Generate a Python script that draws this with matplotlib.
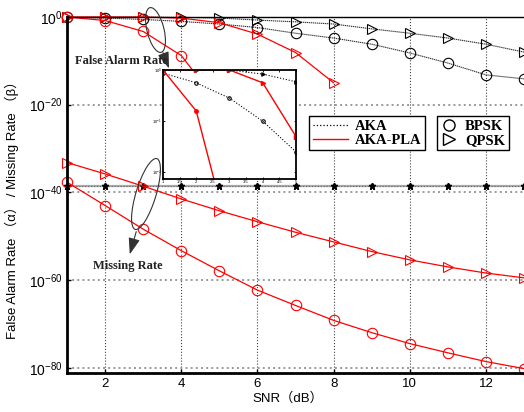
import numpy as np
import matplotlib
matplotlib.use("Agg")
import matplotlib.pyplot as plt
from matplotlib.patches import Ellipse
from matplotlib.lines import Line2D
from matplotlib.ticker import NullLocator

plt.rcParams['font.family'] = ['Liberation Sans', 'Noto Sans CJK SC', 'DejaVu Sans']

snr = [1, 2, 3, 4, 5, 6, 7, 8, 9, 10, 11, 12, 13]

# log10 of the rates
aka_bpsk_miss = [-0.06, -0.25, -0.55, -1.0, -1.6, -2.4, -3.7, -4.8, -6.2, -8.2, -10.5, -13.2, -14.1]
aka_qpsk_miss = [0.0, 0.0, 0.0, -0.08, -0.23, -0.7, -1.1, -1.6, -2.7, -3.7, -4.8, -6.2, -8.0]
pla_bpsk_miss = [0.0, -0.8, -3.3, -8.8, -20.0]
pla_qpsk_miss = [0.0, 0.0, 0.0, -0.25, -1.3, -3.9, -8.1, -15.0]
aka_bpsk_fa = [-38.5, -38.5, -38.5, -38.5, -38.5, -38.5, -38.5, -38.5, -38.5, -38.5, -38.5, -38.5, -38.5]
aka_qpsk_fa = [-38.5, -38.5, -38.5, -38.5, -38.5, -38.5, -38.5, -38.5, -38.5, -38.5, -38.5, -38.5, -38.5]
pla_bpsk_fa = [-37.7, -43.0, -48.4, -53.3, -57.9, -62.3, -65.8, -69.2, -72.0, -74.5, -76.6, -78.6, -80.2]
pla_qpsk_fa = [-33.2, -35.8, -38.6, -41.5, -44.2, -46.7, -49.1, -51.3, -53.5, -55.4, -57.0, -58.4, -59.5]

ytick_exp = [0, -20, -40, -60, -80]
xticks = [2, 4, 6, 8, 10, 12]
inset_xticks = [1, 1.5, 2, 2.5, 3, 3.5, 4, 4.5, 5]
inset_yexp = [0, -1, -2]

def p10(v):
    return 10.0 ** np.array(v)

fig = plt.figure(figsize=(5.24, 4.12), dpi=100, facecolor="white")
ax = fig.add_axes([0.128, 0.0947, 0.872, 0.864])
ax.set_yscale("log")
ax.set_xlim(1, 13)
ax.set_ylim(10 ** -81.2, 10 ** 0)

mk = dict(mfc="none", ms=7.5, mew=0.8, clip_on=False)
aka_ls = (0, (1.2, 0.6))
# AKA missing rates
ax.plot(snr, p10(aka_bpsk_miss), color="#333333", ls=aka_ls, lw=0.8, marker="o", mec="k", **mk)
ax.plot(snr, p10(aka_qpsk_miss), color="#333333", ls=aka_ls, lw=0.8, marker=">", mec="k", **mk)
# AKA false alarm
ax.plot(snr, p10(aka_bpsk_fa), color="#aaaaaa", ls="-", lw=1.6, marker="*", ms=5,
        mfc="k", mec="k", clip_on=False)
ax.plot(snr, p10(aka_qpsk_fa), color="#666666", ls=":", lw=0.8, marker="*", ms=5,
        mfc="k", mec="k", clip_on=False)
# AKA-PLA
ax.plot(snr[:len(pla_bpsk_miss)], p10(pla_bpsk_miss), color="red", lw=0.9, marker="o", mec="red", **mk)
ax.plot(snr[:len(pla_qpsk_miss)], p10(pla_qpsk_miss), color="red", lw=0.9, marker=">", mec="red", **mk)
ax.plot(snr, p10(pla_bpsk_fa), color="red", lw=0.9, marker="o", mec="red", **mk)
ax.plot(snr, p10(pla_qpsk_fa), color="red", lw=0.9, marker=">", mec="red", **mk)

ax.set_yticks([10.0 ** e for e in ytick_exp])
ax.set_yticklabels([r"$\mathregular{10^{%d}}$" % e for e in ytick_exp], fontsize=10)
ax.yaxis.set_minor_locator(NullLocator())
ax.set_xticks(xticks)
ax.set_xticklabels([str(x) for x in xticks], fontsize=9.5)
ax.tick_params(direction="in", length=3, width=1, colors="k")
ax.xaxis.grid(True, color="#444444", ls=":", lw=0.8)
ax.yaxis.grid(True, color="#999999", ls=":", lw=1.4)
ax.spines["left"].set_linewidth(2)
ax.spines["bottom"].set_linewidth(2)
ax.spines["top"].set_linewidth(1)
ax.spines["right"].set_visible(False)

ax.set_xlabel("SNR（dB）", fontsize=9.5)
ax.xaxis.set_label_coords(0.484, -0.055)
ax.set_ylabel("False Alarm Rate （α） / Missing Rate （β）", fontsize=9.5)
ax.yaxis.set_label_coords(-0.105, 0.466)

# legends
h1 = [Line2D([], [], color="k", ls=":", lw=0.9), Line2D([], [], color="red", lw=1)]
leg1 = ax.legend(h1, ["AKA", "AKA-PLA"], loc="upper left", bbox_to_anchor=(0.590, 0.7184),
                 bbox_transform=fig.transFigure, borderaxespad=0, fancybox=False,
                 edgecolor="k", framealpha=1, handlelength=2.4, handletextpad=0.5,
                 borderpad=0.25, labelspacing=0.05,
                 prop=dict(family="Liberation Serif", weight="bold", size=10.5))
leg1.get_frame().set_linewidth(1)
ax.add_artist(leg1)
h2 = [Line2D([], [], ls="none", marker="o", mfc="none", mec="k", ms=8),
      Line2D([], [], ls="none", marker=">", mfc="none", mec="k", ms=9)]
leg2 = ax.legend(h2, ["BPSK", "QPSK"], loc="upper left", bbox_to_anchor=(0.8334, 0.7184),
                 bbox_transform=fig.transFigure, borderaxespad=0, fancybox=False,
                 edgecolor="k", framealpha=1, handlelength=1.2, handletextpad=0.5,
                 borderpad=0.25, labelspacing=0.05,
                 prop=dict(family="Liberation Serif", weight="bold", size=10.5))
leg2.get_frame().set_linewidth(1)

# inset zoom on low SNR missing rates
axi = fig.add_axes([0.311, 0.5655, 0.2538, 0.2646])
axi.set_yscale("log")
axi.set_xlim(1, 5)
axi.set_ylim(10 ** -2.13, 10 ** 0)
n5 = 5
axi.plot(snr[:n5], p10(aka_bpsk_miss[:n5]), color="k", ls=":", lw=0.8, marker="o", ms=2.5,
         mfc="none", mec="k", mew=0.8)
axi.plot(snr[:n5], p10(aka_qpsk_miss[:n5]), color="k", ls=":", lw=0.8, marker=">", ms=2.5,
         mfc="k", mec="k", mew=0.8)
axi.plot(snr[:n5], p10(pla_bpsk_miss[:n5]), color="red", lw=1, marker="o", ms=2.5, mfc="red", mec="red")
axi.plot(snr[:n5], p10(pla_qpsk_miss[:n5]), color="red", lw=1, marker=">", ms=3, mfc="red", mec="red")
axi.set_xticks(inset_xticks)
axi.set_xticklabels([("%g" % v) for v in inset_xticks], fontsize=3)
axi.set_yticks([10.0 ** e for e in inset_yexp])
axi.set_yticklabels([r"$\mathregular{10^{%d}}$" % e for e in inset_yexp], fontsize=3)
axi.yaxis.set_minor_locator(NullLocator())
axi.tick_params(direction="in", length=1.5, width=0.6, pad=0.8, top=True, right=True)
for s in axi.spines.values():
    s.set_linewidth(1.3)

# annotations in pixel space
ov = fig.add_axes([0, 0, 1, 1], facecolor="none")
ov.set_xlim(0, 524)
ov.set_ylim(412, 0)
ov.axis("off")
ov.add_patch(Ellipse((155.5, 30), 17, 46, angle=-14, fill=False, ec="#333333", lw=0.8))
ov.annotate("", xy=(170, 71), xytext=(162, 50),
            arrowprops=dict(arrowstyle="-|>,head_length=1.0,head_width=0.35", color="#333333", lw=0.8))
ov.add_patch(Ellipse((146, 194), 20, 74, angle=17, fill=False, ec="#333333", lw=0.8))
ov.annotate("", xy=(129, 257), xytext=(137, 229),
            arrowprops=dict(arrowstyle="-|>,head_length=1.0,head_width=0.35", color="#333333", lw=0.8))
ov.text(121, 61, "False Alarm Rate", ha="center", va="center", fontsize=9,
        family="Liberation Serif", weight="bold", color="#222222")
ov.text(128, 266, "Missing Rate", ha="center", va="center", fontsize=9,
        family="Liberation Serif", weight="bold", color="#222222")

fig.savefig("out.png", dpi=100, facecolor="white")
